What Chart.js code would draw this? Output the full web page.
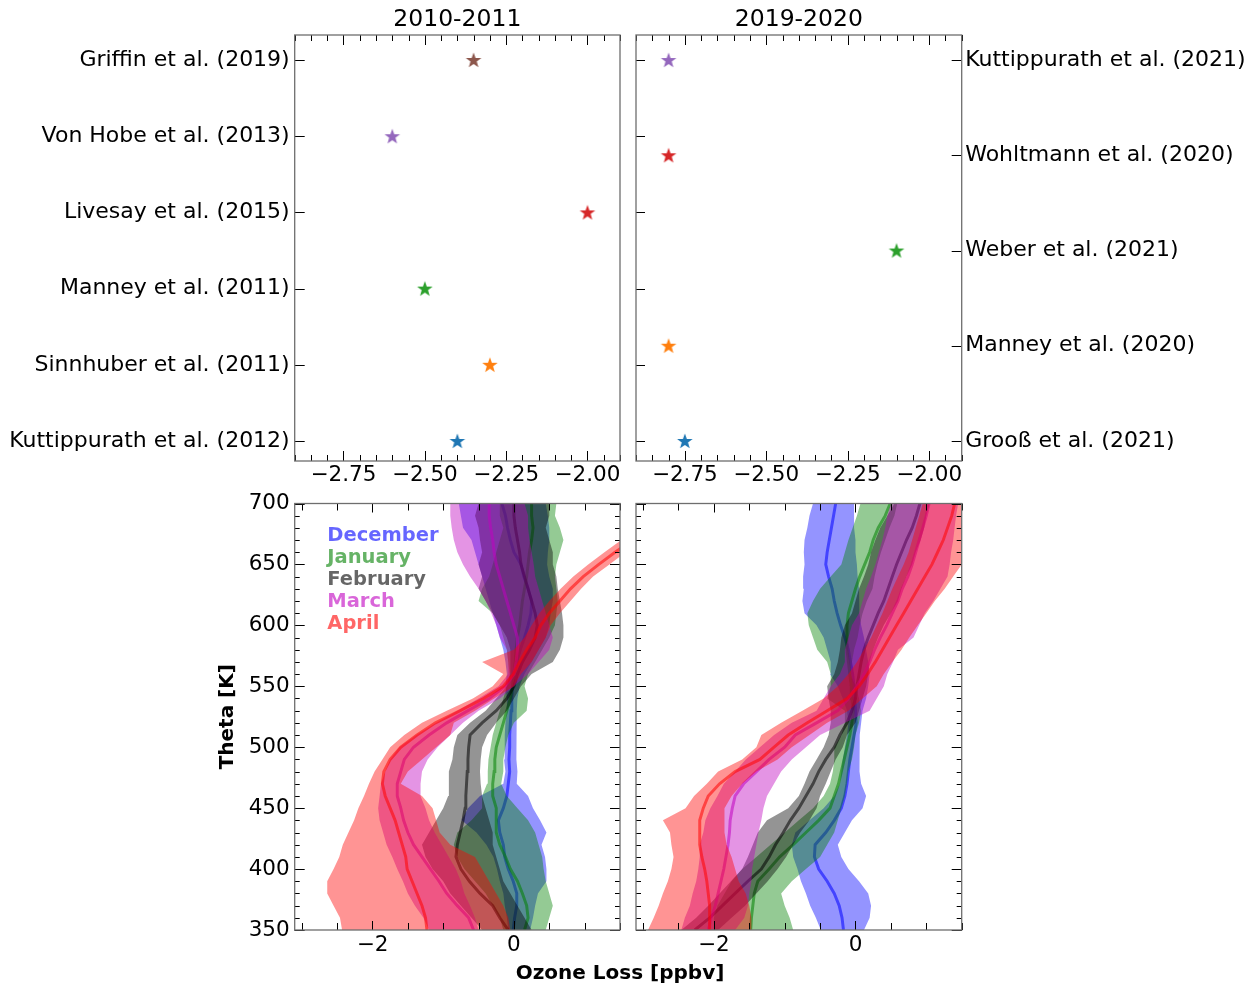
<!DOCTYPE html>
<html>
<head>
<meta charset="utf-8">
<title>Ozone loss estimates and profiles</title>
<script src="https://cdn.jsdelivr.net/npm/chart.js@4.4.1/dist/chart.umd.min.js"></script>
<style>
  html, body { margin: 0; padding: 0; background: #fff; }
  body { position: relative; width: 1257px; height: 987px; overflow: hidden; }
  canvas { position: absolute; }
  #xTitle { position: absolute; left: 420px; top: 960px; width: 400px; text-align: center;
            font: bold 20px 'DejaVu Sans', sans-serif; line-height: 24px; color: #000; }
</style>
</head>
<body>
<canvas id="top1011" width="625" height="490" style="left:0px;top:0px"></canvas>
<canvas id="top1920" width="627" height="490" style="left:630px;top:0px"></canvas>
<canvas id="prof1011" width="425" height="497" style="left:200px;top:490px"></canvas>
<canvas id="prof1920" width="340" height="497" style="left:630px;top:490px"></canvas>
<div id="xTitle">Ozone Loss [ppbv]</div>
<script>
Chart.defaults.font.family = "'DejaVu Sans', sans-serif";
Chart.defaults.color = '#000';

// theta levels (K), bottom to top
const theta = [350, 360, 370, 380, 390, 400, 410, 420, 430, 440, 450, 460, 470, 480, 490, 500, 510, 520,
               530, 540, 550, 560, 570, 580, 590, 600, 610, 620, 630, 640, 650, 660, 670, 680, 690, 700];

// 2010-2011 profiles: mean, lower and upper edge of the band (ppbv)
const decMean1011 = [-0.01, 0.01, 0.04, 0.04, -0.01, -0.08, -0.13, -0.15, -0.2, -0.22, -0.15, -0.1, -0.08, -0.06, -0.07, -0.06, -0.06, -0.05, -0.04, -0.03, -0.02, 0.0, 0.04, 0.09, 0.15, 0.2, 0.24, 0.25, 0.2, 0.14, 0.1, 0.0, -0.05, -0.09, -0.12, -0.17];
const decLo1011 = [-0.08, -0.1, -0.13, -0.15, -0.2, -0.24, -0.29, -0.39, -0.53, -0.74, -0.65, -0.48, -0.15, -0.12, -0.14, -0.13, -0.13, -0.12, -0.1, -0.1, -0.12, -0.1, -0.12, -0.15, -0.2, -0.25, -0.3, -0.35, -0.4, -0.45, -0.5, -0.55, -0.6, -0.72, -0.75, -0.78];
const decHi1011 = [0.23, 0.27, 0.3, 0.34, 0.46, 0.46, 0.44, 0.39, 0.46, 0.37, 0.27, 0.2, 0.04, 0.05, 0.03, 0.04, 0.03, 0.04, 0.04, 0.05, 0.08, 0.15, 0.25, 0.35, 0.45, 0.5, 0.52, 0.55, 0.55, 0.5, 0.47, 0.48, 0.5, 0.5, 0.48, 0.45];

const janMean1011 = [0.15, 0.2, 0.18, 0.12, 0.05, -0.05, -0.12, -0.2, -0.25, -0.25, -0.25, -0.3, -0.3, -0.28, -0.27, -0.25, -0.2, -0.15, -0.1, -0.05, -0.02, 0.0, 0.02, 0.03, 0.05, 0.08, 0.1, 0.12, 0.15, 0.18, 0.2, 0.22, 0.25, 0.27, 0.25, 0.25];
const janLo1011 = [-0.15, -0.2, -0.3, -0.4, -0.55, -0.7, -0.8, -0.85, -0.8, -0.6, -0.45, -0.45, -0.38, -0.37, -0.36, -0.33, -0.3, -0.25, -0.2, -0.15, -0.1, -0.06, -0.08, -0.1, -0.15, -0.2, -0.3, -0.5, -0.45, -0.35, -0.3, -0.25, -0.2, -0.15, -0.2, -0.2];
const janHi1011 = [0.45, 0.5, 0.55, 0.5, 0.45, 0.42, 0.4, 0.35, 0.3, 0.2, 0.05, -0.1, -0.18, -0.15, -0.15, -0.12, -0.08, 0.0, 0.18, 0.2, 0.15, 0.2, 0.3, 0.4, 0.5, 0.58, 0.6, 0.62, 0.6, 0.58, 0.6, 0.65, 0.7, 0.65, 0.58, 0.6];

const febMean1011 = [-0.08, -0.2, -0.3, -0.48, -0.63, -0.75, -0.82, -0.8, -0.76, -0.72, -0.69, -0.68, -0.67, -0.66, -0.65, -0.64, -0.62, -0.45, -0.25, -0.1, 0.0, 0.05, 0.12, 0.22, 0.3, 0.33, 0.3, 0.25, 0.2, 0.15, 0.1, 0.08, 0.05, 0.02, 0.0, 0.0];
const febLo1011 = [-0.45, -0.6, -0.75, -0.9, -1.0, -1.15, -1.25, -1.3, -1.2, -1.1, -1.0, -0.93, -0.92, -0.92, -0.87, -0.85, -0.8, -0.62, -0.4, -0.25, -0.1, -0.05, -0.05, -0.05, -0.1, -0.2, -0.3, -0.4, -0.5, -0.45, -0.5, -0.45, -0.48, -0.5, -0.55, -0.5];
const febHi1011 = [0.25, 0.15, 0.05, -0.05, -0.15, -0.2, -0.25, -0.3, -0.3, -0.35, -0.4, -0.45, -0.47, -0.48, -0.47, -0.45, -0.38, -0.25, -0.1, 0.0, 0.1, 0.25, 0.55, 0.65, 0.7, 0.7, 0.68, 0.65, 0.62, 0.6, 0.55, 0.55, 0.5, 0.45, 0.5, 0.5];

const marMean1011 = [-0.57, -0.64, -0.8, -0.95, -1.06, -1.18, -1.3, -1.42, -1.5, -1.56, -1.6, -1.65, -1.65, -1.6, -1.55, -1.42, -1.2, -0.95, -0.65, -0.35, -0.12, 0.0, 0.03, 0.05, 0.05, 0.0, -0.05, -0.1, -0.15, -0.2, -0.25, -0.28, -0.3, -0.33, -0.35, -0.35];
const marLo1011 = [-1.2, -1.28, -1.4, -1.5, -1.57, -1.65, -1.72, -1.8, -1.85, -1.9, -1.92, -1.9, -1.88, -1.82, -1.75, -1.62, -1.38, -1.1, -0.8, -0.5, -0.22, -0.08, -0.08, -0.1, -0.2, -0.25, -0.32, -0.4, -0.5, -0.62, -0.72, -0.8, -0.85, -0.88, -0.9, -0.9];
const marHi1011 = [-0.5, -0.55, -0.62, -0.7, -0.75, -0.82, -0.92, -1.02, -1.12, -1.2, -1.25, -1.32, -1.32, -1.3, -1.22, -1.08, -0.9, -0.72, -0.5, -0.2, 0.0, 0.2, 0.35, 0.5, 0.55, 0.5, 0.45, 0.4, 0.35, 0.3, 0.28, 0.25, 0.22, 0.2, 0.2, 0.15];

const aprMean1011 = [-1.23, -1.25, -1.3, -1.37, -1.44, -1.51, -1.53, -1.58, -1.63, -1.68, -1.75, -1.82, -1.86, -1.84, -1.75, -1.6, -1.37, -1.11, -0.76, -0.43, -0.15, -0.01, 0.08, 0.18, 0.3, 0.38, 0.5, 0.65, 0.8, 0.98, 1.2, 1.43, 1.68, 1.9, 2.1, 2.3];
const aprLo1011 = [-2.43, -2.46, -2.55, -2.64, -2.64, -2.55, -2.47, -2.42, -2.34, -2.26, -2.2, -2.12, -2.05, -1.97, -1.86, -1.75, -1.55, -1.3, -0.95, -0.58, -0.3, -0.15, -0.45, 0.0, 0.15, 0.25, 0.36, 0.5, 0.66, 0.84, 1.05, 1.28, 1.52, 1.75, 1.95, 2.15];
const aprHi1011 = [-0.05, -0.08, -0.15, -0.25, -0.35, -0.45, -0.55, -0.9, -1.05, -1.1, -1.15, -1.3, -1.6, -1.5, -1.3, -1.1, -0.9, -0.85, -0.55, -0.28, 0.0, 0.1, 0.25, 0.35, 0.45, 0.52, 0.65, 0.8, 0.95, 1.12, 1.35, 1.58, 1.82, 2.05, 2.25, 2.45];

// 2019-2020 profiles
const decMean1920 = [-0.17, -0.19, -0.23, -0.3, -0.4, -0.52, -0.58, -0.57, -0.42, -0.3, -0.2, -0.15, -0.12, -0.1, -0.08, -0.05, -0.02, 0.01, 0.0, -0.01, -0.02, -0.04, -0.07, -0.1, -0.15, -0.21, -0.26, -0.3, -0.33, -0.38, -0.42, -0.4, -0.37, -0.34, -0.31, -0.28];
const decLo1920 = [-0.49, -0.56, -0.64, -0.7, -0.77, -0.82, -0.88, -0.9, -0.85, -0.65, -0.45, -0.3, -0.22, -0.2, -0.18, -0.15, -0.12, -0.1, -0.12, -0.18, -0.25, -0.36, -0.35, -0.4, -0.45, -0.55, -0.72, -0.75, -0.73, -0.74, -0.72, -0.73, -0.72, -0.68, -0.65, -0.6];
const decHi1920 = [0.12, 0.2, 0.22, 0.18, 0.05, -0.1, -0.2, -0.25, -0.15, -0.05, 0.1, 0.15, 0.08, 0.06, 0.05, 0.06, 0.06, 0.08, 0.1, 0.15, 0.18, 0.2, 0.18, 0.15, 0.12, 0.08, 0.06, 0.05, 0.05, 0.03, 0.02, 0.0, 0.0, -0.02, -0.02, -0.02];

const janMean1920 = [-1.48, -1.47, -1.45, -1.43, -1.38, -1.22, -1.07, -0.88, -0.7, -0.52, -0.36, -0.3, -0.24, -0.2, -0.16, -0.12, -0.08, -0.05, -0.03, -0.05, -0.06, -0.08, -0.1, -0.12, -0.12, -0.12, -0.1, -0.05, 0.0, 0.06, 0.13, 0.2, 0.25, 0.32, 0.42, 0.49];
const janLo1920 = [-2.0, -2.0, -1.95, -1.85, -1.75, -1.6, -1.4, -1.2, -1.0, -0.8, -0.6, -0.45, -0.36, -0.32, -0.3, -0.3, -0.2, -0.15, -0.15, -0.4, -0.35, -0.35, -0.4, -0.54, -0.6, -0.66, -0.68, -0.6, -0.5, -0.35, -0.2, -0.15, -0.1, -0.04, 0.02, 0.07];
const janHi1920 = [-0.88, -0.93, -1.0, -1.05, -0.9, -0.7, -0.5, -0.4, -0.3, -0.25, -0.2, -0.15, -0.12, -0.1, -0.05, -0.02, 0.0, 0.05, 0.08, 0.05, 0.0, -0.07, -0.05, -0.02, 0.03, 0.06, 0.1, 0.16, 0.24, 0.27, 0.31, 0.36, 0.42, 0.48, 0.55, 0.59];

const febMean1920 = [-2.27, -2.06, -1.88, -1.7, -1.52, -1.33, -1.22, -1.13, -1.02, -0.92, -0.8, -0.7, -0.6, -0.52, -0.42, -0.3, -0.22, -0.12, -0.05, 0.0, 0.02, 0.05, 0.08, 0.12, 0.18, 0.25, 0.32, 0.4, 0.46, 0.52, 0.58, 0.65, 0.72, 0.8, 0.86, 0.91];
const febLo1920 = [-2.46, -2.25, -2.08, -1.92, -1.76, -1.6, -1.52, -1.45, -1.38, -1.25, -0.95, -0.8, -0.72, -0.65, -0.55, -0.45, -0.38, -0.35, -0.35, -0.38, -0.4, -0.3, -0.25, -0.22, -0.2, -0.15, -0.05, 0.0, 0.05, 0.12, 0.18, 0.22, 0.28, 0.35, 0.45, 0.55];
const febHi1920 = [-1.94, -1.75, -1.56, -1.4, -1.24, -1.1, -0.98, -0.88, -0.78, -0.65, -0.55, -0.5, -0.42, -0.35, -0.28, -0.18, -0.12, 0.0, 0.05, 0.1, 0.15, 0.18, 0.2, 0.25, 0.32, 0.4, 0.5, 0.6, 0.65, 0.72, 0.8, 0.85, 0.92, 0.97, 1.0, 1.05];

const marMean1920 = [-2.08, -2.04, -1.98, -1.94, -1.9, -1.86, -1.83, -1.8, -1.78, -1.77, -1.74, -1.7, -1.58, -1.4, -1.22, -1.0, -0.85, -0.55, -0.25, -0.1, 0.02, 0.12, 0.2, 0.27, 0.35, 0.44, 0.52, 0.6, 0.66, 0.74, 0.8, 0.85, 0.9, 0.95, 1.0, 1.04];
const marLo1920 = [-2.46, -2.41, -2.34, -2.3, -2.25, -2.22, -2.2, -2.2, -2.15, -2.12, -2.05, -1.95, -1.86, -1.7, -1.55, -1.35, -1.15, -0.9, -0.55, -0.45, -0.35, -0.22, -0.15, -0.15, -0.1, -0.05, 0.05, 0.1, 0.15, 0.22, 0.28, 0.33, 0.38, 0.42, 0.45, 0.5];
const marHi1920 = [-1.7, -1.57, -1.52, -1.5, -1.47, -1.46, -1.43, -1.4, -1.37, -1.33, -1.3, -1.25, -1.15, -1.05, -0.9, -0.7, -0.5, -0.15, 0.2, 0.3, 0.4, 0.45, 0.53, 0.6, 0.82, 0.9, 0.98, 1.1, 1.2, 1.3, 1.33, 1.35, 1.38, 1.4, 1.42, 1.45];

const aprMean1920 = [-2.06, -2.06, -2.06, -2.08, -2.1, -2.13, -2.17, -2.2, -2.2, -2.2, -2.15, -2.08, -1.92, -1.7, -1.35, -1.15, -0.95, -0.68, -0.4, -0.12, 0.05, 0.17, 0.28, 0.38, 0.48, 0.58, 0.68, 0.78, 0.88, 0.98, 1.08, 1.16, 1.24, 1.3, 1.36, 1.4];
const aprLo1920 = [-2.93, -2.85, -2.78, -2.72, -2.65, -2.6, -2.57, -2.6, -2.62, -2.72, -2.4, -2.28, -2.1, -1.94, -1.6, -1.4, -1.33, -1.05, -0.75, -0.45, -0.25, -0.1, 0.02, 0.12, 0.22, 0.3, 0.38, 0.45, 0.52, 0.6, 0.68, 0.75, 0.8, 0.85, 0.9, 0.95];
const aprHi1920 = [-1.47, -1.47, -1.5, -1.55, -1.65, -1.7, -1.75, -1.82, -1.85, -1.85, -1.85, -1.75, -1.6, -1.4, -1.1, -0.9, -0.65, -0.4, -0.1, 0.1, 0.3, 0.4, 0.52, 0.65, 0.76, 0.88, 1.0, 1.12, 1.26, 1.38, 1.5, 1.58, 1.65, 1.7, 1.75, 1.8];

// published estimates (ppbv), bottom to top
const refs1011 = ['Kuttippurath et al. (2012)', 'Sinnhuber et al. (2011)', 'Manney et al. (2011)',
                  'Livesay et al. (2015)', 'Von Hobe et al. (2013)', 'Griffin et al. (2019)'];
const loss1011 = [-2.4, -2.3, -2.5, -2.0, -2.6, -2.35];
const refs1920 = ['Grooß et al. (2021)', 'Manney et al. (2020)', 'Weber et al. (2021)',
                  'Wohltmann et al. (2020)', 'Kuttippurath et al. (2021)'];
const loss1920 = [-2.75, -2.8, -2.1, -2.8, -2.8];

const monthNames = ['December', 'January', 'February', 'March', 'April'];
const topMajor = [-2.75, -2.5, -2.25, -2.0];
const profMajor = [-2, 0];
const thetaMajor = [350, 400, 450, 500, 550, 600, 650, 700];
const leftSlots = [0, 1, 2, 3, 4, 5];

// styles
const starColors = ['#1f77b4', '#ff7f0e', '#2ca02c', '#d62728', '#9467bd', '#8c564b'];
const monthRgb = ['0,0,255', '0,128,0', '0,0,0', '191,0,191', '255,0,0'];

function steps(from, to, step) {
  const out = [];
  for (let v = from; v <= to + 1e-9; v += step) out.push(Math.round(v * 1000) / 1000);
  return out;
}

function starImage(color) {
  const c = document.createElement('canvas');
  c.width = 18; c.height = 18;
  const g = c.getContext('2d');
  g.fillStyle = color;
  g.beginPath();
  for (let i = 0; i < 10; i++) {
    const r = i % 2 ? 3.3 : 8.2;
    const a = -Math.PI / 2 + i * Math.PI / 5;
    g.lineTo(9 + r * Math.cos(a), 9.6 + r * Math.sin(a));
  }
  g.closePath();
  g.fill();
  return c;
}

// inward tick marks and the grey frame
const frameTicks = {
  id: 'frameTicks',
  afterDatasetsDraw(chart, args, opts) {
    const { ctx, chartArea: a } = chart;
    ctx.save();
    ctx.strokeStyle = '#000';
    ctx.lineWidth = 1;
    for (const m of opts.marks || []) {
      const sc = chart.scales[m.scale];
      for (const v of m.values) {
        const p = Math.round(sc.getPixelForValue(v)) + 0.5;
        ctx.beginPath();
        if (m.side === 'bottom') { ctx.moveTo(p, a.bottom); ctx.lineTo(p, a.bottom - m.len); }
        else if (m.side === 'top') { ctx.moveTo(p, a.top); ctx.lineTo(p, a.top + m.len); }
        else if (m.side === 'left') { ctx.moveTo(a.left, p); ctx.lineTo(a.left + m.len, p); }
        else { ctx.moveTo(a.right, p); ctx.lineTo(a.right - m.len, p); }
        ctx.stroke();
      }
    }
    ctx.strokeStyle = '#6e6e6e';
    ctx.lineWidth = 1.3;
    ctx.strokeRect(a.left, a.top, a.right - a.left, a.bottom - a.top);
    ctx.restore();
  }
};

// coloured month names in the left profile panel
const monthLegend = {
  id: 'monthLegend',
  afterDatasetsDraw(chart, args, opts) {
    if (!opts.show) return;
    const { ctx, chartArea: a } = chart;
    ctx.save();
    ctx.font = "bold 19.5px 'DejaVu Sans', sans-serif";
    ctx.textBaseline = 'alphabetic';
    monthNames.forEach((name, i) => {
      ctx.fillStyle = `rgba(${monthRgb[i]},0.6)`;
      ctx.fillText(name, a.left + 32.6, a.top + 37 + i * 22);
    });
    ctx.restore();
  }
};

function fixed(size, dim) {
  return s => {
    s[dim] = size;
    s.paddingLeft = s.paddingRight = s.paddingTop = s.paddingBottom = 0;
  };
}
const bare = { grid: { display: false, drawTicks: false }, border: { display: false } };
const fmtTop = v => '\u2212' + Math.abs(v).toFixed(2);
const fmtProf = v => (v < 0 ? '\u2212' + Math.abs(v) : String(v));

function starChart(id, refs, loss, isLeft, title) {
  const scales = {
    x: { type: 'linear', position: 'bottom', min: -2.9, max: -1.9, ...bare,
         afterBuildTicks: s => { s.ticks = topMajor.map(v => ({ value: v })); },
         ticks: { callback: fmtTop, font: { size: 21.5 }, padding: 2, maxRotation: 0, autoSkip: false },
         afterFit: fixed(29, 'height') },
    x2: { type: 'linear', position: 'top', min: -2.9, max: -1.9, ...bare,
          ticks: { display: false },
          title: { display: true, text: title, font: { size: 23.5 }, padding: { top: 6, bottom: 0 } },
          afterFit: fixed(35, 'height') },
    y: { type: 'linear', position: 'left', min: -0.2625, max: 5.328, ...bare,
         afterBuildTicks: s => { s.ticks = leftSlots.map(v => ({ value: v })); },
         ticks: { display: isLeft, callback: v => refs[v], font: { size: 22 }, padding: 5, autoSkip: false },
         afterFit: fixed(isLeft ? 294.7 : 6, 'width') }
  };
  const marks = [
    { scale: 'x', side: 'bottom', values: steps(-2.9, -1.9, 0.05), len: 6 },
    { scale: 'x', side: 'top', values: steps(-2.9, -1.9, 0.05), len: 6 },
    { scale: 'x', side: 'bottom', values: topMajor, len: 10 },
    { scale: 'x', side: 'top', values: topMajor, len: 10 },
    { scale: 'y', side: 'left', values: leftSlots, len: isLeft ? 10 : 9 }
  ];
  if (!isLeft) {
    scales.yr = { type: 'linear', position: 'right', min: -0.21, max: 4.2625, ...bare,
                  afterBuildTicks: s => { s.ticks = refs.map((_, i) => ({ value: i })); },
                  ticks: { callback: v => refs[v], font: { size: 22 }, padding: 3.5, autoSkip: false },
                  afterFit: fixed(295.3, 'width') };
    marks.push({ scale: 'yr', side: 'right', values: refs.map((_, i) => i), len: 10 });
  }
  return new Chart(document.getElementById(id), {
    type: 'scatter',
    data: { datasets: [{
      data: loss.map((v, i) => ({ x: v, y: i })),
      yAxisID: isLeft ? 'y' : 'yr',
      pointStyle: starColors.slice(0, loss.length).map(starImage),
      pointRadius: 8
    }] },
    options: {
      responsive: false, animation: false, events: [], devicePixelRatio: 1,
      layout: { autoPadding: false, padding: { right: isLeft ? 5 : 0 } },
      plugins: { legend: { display: false }, tooltip: { enabled: false }, frameTicks: { marks } },
      scales
    },
    plugins: [frameTicks]
  });
}

function profileChart(id, series, showY) {
  const datasets = [];
  series.forEach(([mean, lo, hi], k) => {
    const lower = theta.map((t, i) => ({ x: lo[i], y: t }));
    const upper = theta.map((t, i) => ({ x: hi[i], y: t })).reverse();
    datasets.push({
      data: lower.concat(upper), fill: 'shape',
      backgroundColor: `rgba(${monthRgb[k]},0.42)`, borderWidth: 0, pointRadius: 0, order: -2 * k
    });
    datasets.push({
      data: theta.map((t, i) => ({ x: mean[i], y: t })), fill: false,
      borderColor: `rgba(${monthRgb[k]},0.55)`, borderWidth: 3, pointRadius: 0, order: -2 * k - 1
    });
  });
  const xMinor = steps(-3, 1.5, 0.5);
  const yMinor = steps(350, 700, 10);
  return new Chart(document.getElementById(id), {
    type: 'line',
    data: { datasets },
    options: {
      responsive: false, animation: false, events: [], devicePixelRatio: 1, indexAxis: 'y',
      layout: { autoPadding: false, padding: { top: 13.5, right: showY ? 5 : 8.3 } },
      plugins: {
        legend: { display: false }, tooltip: { enabled: false },
        monthLegend: { show: showY },
        frameTicks: { marks: [
          { scale: 'x', side: 'bottom', values: xMinor, len: 7 },
          { scale: 'x', side: 'top', values: xMinor, len: 7 },
          { scale: 'x', side: 'bottom', values: profMajor, len: 9 },
          { scale: 'x', side: 'top', values: profMajor, len: 9 },
          { scale: 'y', side: 'left', values: yMinor, len: 5 },
          { scale: 'y', side: 'right', values: yMinor, len: 5 },
          { scale: 'y', side: 'left', values: thetaMajor, len: 10 },
          { scale: 'y', side: 'right', values: thetaMajor, len: 10 }
        ] }
      },
      scales: {
        x: { type: 'linear', position: 'bottom', min: -3.1, max: 1.5, ...bare,
             afterBuildTicks: s => { s.ticks = profMajor.map(v => ({ value: v })); },
             ticks: { callback: fmtProf, font: { size: 21.5 }, padding: 3, maxRotation: 0, autoSkip: false },
             afterFit: fixed(57, 'height') },
        y: { type: 'linear', position: 'left', min: 350, max: 700, ...bare,
             afterBuildTicks: s => { s.ticks = thetaMajor.map(v => ({ value: v })); },
             ticks: { display: showY, font: { size: 21.5 }, padding: 5 },
             title: { display: showY, text: 'Theta [K]', font: { size: 20, weight: 'bold' }, padding: { top: 16 } },
             afterFit: fixed(showY ? 94.7 : 6, 'width') }
      }
    },
    plugins: [frameTicks, monthLegend]
  });
}

starChart('top1011', refs1011, loss1011, true, '2010-2011');
starChart('top1920', refs1920, loss1920, false, '2019-2020');
profileChart('prof1011', [
  [decMean1011, decLo1011, decHi1011], [janMean1011, janLo1011, janHi1011],
  [febMean1011, febLo1011, febHi1011], [marMean1011, marLo1011, marHi1011],
  [aprMean1011, aprLo1011, aprHi1011]], true);
profileChart('prof1920', [
  [decMean1920, decLo1920, decHi1920], [janMean1920, janLo1920, janHi1920],
  [febMean1920, febLo1920, febHi1920], [marMean1920, marLo1920, marHi1920],
  [aprMean1920, aprLo1920, aprHi1920]], false);
</script>
</body>
</html>
